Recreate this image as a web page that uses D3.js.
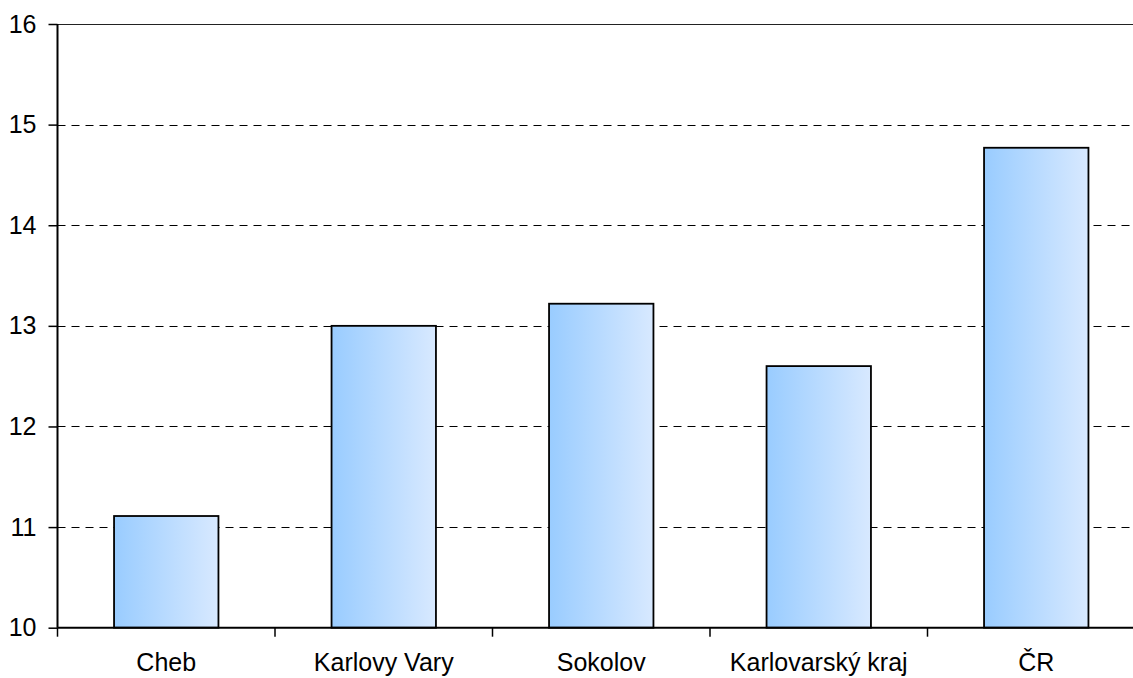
<!DOCTYPE html>
<html>
<head>
<meta charset="utf-8">
<script src="https://cdn.jsdelivr.net/npm/d3@7"></script>
<style>
  html, body { margin: 0; padding: 0; background: #fff; }
  svg { display: block; }
  text { font-family: "Liberation Sans", Arial, sans-serif; }
</style>
</head>
<body>
<svg id="chart" width="1133" height="678"></svg>
<script>
const categories = ["Cheb", "Karlovy Vary", "Sokolov", "Karlovarský kraj", "ČR"];
const values = [11.11, 13.0, 13.22, 12.6, 14.77];
const yTicks = [10, 11, 12, 13, 14, 15, 16];

const margin = { left: 57.5, top: 24 };
const plotW = 1087.5, plotH = 603.7;

const svg = d3.select("#chart");
const defs = svg.append("defs");
const grad = defs.append("linearGradient").attr("id", "barGrad")
  .attr("x1", "0%").attr("x2", "100%").attr("y1", "0%").attr("y2", "0%");
grad.append("stop").attr("offset", "0%").attr("stop-color", "#99CCFF");
grad.append("stop").attr("offset", "100%").attr("stop-color", "#D8E9FF");

const g = svg.append("g").attr("transform", `translate(${margin.left},${margin.top})`);

const x = d3.scaleBand().domain(categories).range([0, plotW]).paddingInner(0.52).paddingOuter(0.26);
const y = d3.scaleLinear().domain([10, 16]).range([plotH, 0]);

// gridlines
g.append("g").selectAll("line").data(yTicks.filter(t => t > 10 && t < 16)).join("line")
  .attr("x1", 0).attr("x2", plotW)
  .attr("y1", d => Math.round(y(d)) + 0.5).attr("y2", d => Math.round(y(d)) + 0.5)
  .attr("stroke", "#000").attr("stroke-width", 1).attr("stroke-dasharray", "8,6");

// top border
g.append("line").attr("x1", 0).attr("x2", plotW).attr("y1", 0.5).attr("y2", 0.5)
  .attr("stroke", "#222").attr("stroke-width", 1.2);

// bars
g.append("g").selectAll("rect").data(values).join("rect")
  .attr("x", (d, i) => x(categories[i]))
  .attr("y", d => y(d))
  .attr("width", x.bandwidth())
  .attr("height", d => y(10) - y(d))
  .attr("fill", "url(#barGrad)")
  .attr("stroke", "#000").attr("stroke-width", 1.8);

// y axis
const yAxis = d3.axisLeft(y).tickValues(yTicks).tickSize(9).tickPadding(12).tickFormat(d3.format("d"));
const ya = g.append("g").call(yAxis);
ya.select(".domain").remove();
ya.selectAll(".tick line").attr("stroke", "#000").attr("stroke-width", 1.5);
ya.selectAll("text").attr("font-size", 25).attr("fill", "#000")
  .style("font-family", "'Liberation Sans', Arial, sans-serif");
g.append("line").attr("x1", 0).attr("x2", 0).attr("y1", 0).attr("y2", plotH)
  .attr("stroke", "#000").attr("stroke-width", 2);

// x axis
const step = plotW / categories.length;
g.append("g").selectAll("line").data(d3.range(categories.length + 1)).join("line")
  .attr("x1", i => i * step).attr("x2", i => i * step)
  .attr("y1", plotH).attr("y2", plotH + 9)
  .attr("stroke", "#000").attr("stroke-width", 1.5);
g.append("line").attr("x1", 0).attr("x2", plotW).attr("y1", plotH).attr("y2", plotH)
  .attr("stroke", "#000").attr("stroke-width", 2);
g.append("g").selectAll("text").data(categories).join("text")
  .attr("x", d => x(d) + x.bandwidth() / 2)
  .attr("y", plotH + 43)
  .attr("text-anchor", "middle")
  .attr("font-size", 25).attr("fill", "#000")
  .text(d => d);
</script>
</body>
</html>
